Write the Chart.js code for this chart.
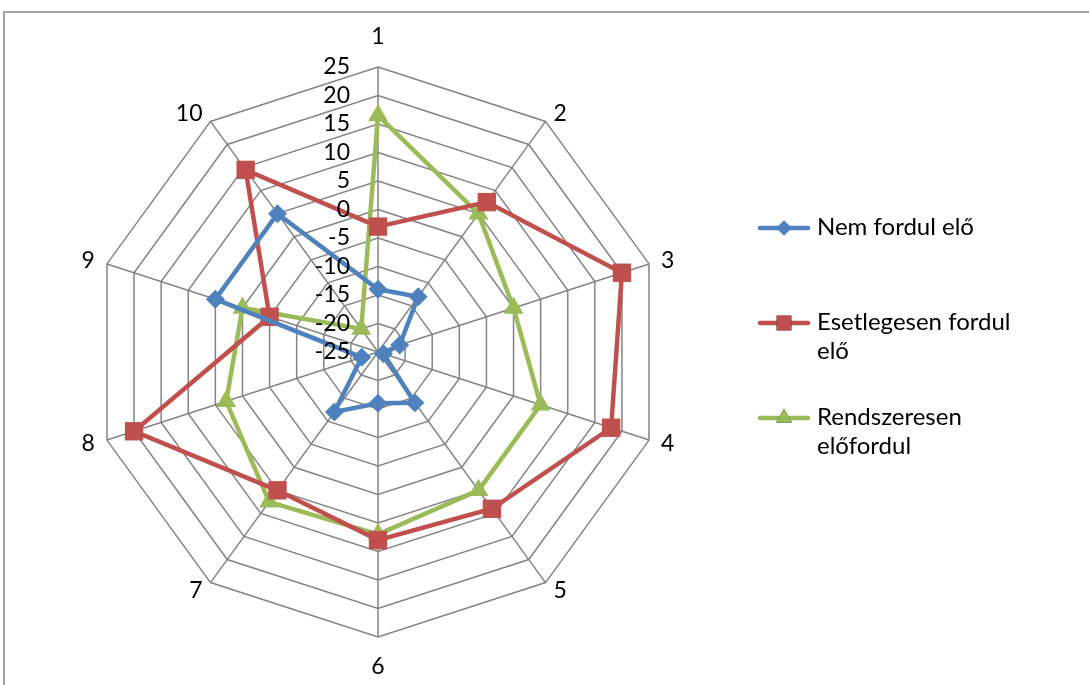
<!DOCTYPE html>
<html>
<head>
<meta charset="utf-8">
<script src="https://cdn.jsdelivr.net/npm/chart.js@4.4.0/dist/chart.umd.min.js"></script>
<style>
  html, body { margin: 0; padding: 0; background: #fff; }
  #wrap { position: relative; width: 1089px; height: 685px; overflow: hidden; }
  #frame { position: absolute; left: 3px; top: 11px; width: 1200px; height: 800px; border: 2px solid #a3a3a3; box-sizing: border-box; }
  canvas { position: absolute; left: 0; top: 0; }
</style>
</head>
<body>
<div id="wrap">
  <div id="frame"></div>
  <canvas id="radarChart" width="1089" height="685"></canvas>
</div>
<script>
const categories = ["1", "2", "3", "4", "5", "6", "7", "8", "9", "10"];
const nemFordulElo = [-14, -13, -21, -24, -14, -16, -12, -22, 5, 5];
const esetlegesen = [-3, 7.5, 20, 18, 9, 8, 5, 20, -5, 14.5];
const rendszeresen = [16.5, 5, 0, 5, 5, 7, 7.5, 3, 0, -20];
const seriesNames = [["Nem fordul elő"], ["Esetlegesen fordul", "elő"], ["Rendszeresen", "előfordul"]];

const FONT = "Lato, 'Noto Sans', sans-serif";
const GRID = "#848484";

// tick labels left of the vertical axis + category labels round the outside
const labelsPlugin = {
    id: "excelLabels",
    afterDraw(chart) {
        const scale = chart.scales.r;
        const ctx = chart.ctx;
        ctx.save();
        ctx.fillStyle = "#000";
        ctx.font = "23px " + FONT;
        ctx.textBaseline = "middle";

        ctx.textAlign = "right";
        scale.ticks.forEach(t => {
            const d = scale.getDistanceFromCenterForValue(t.value);
            ctx.fillText(String(t.value), scale.xCenter - 28, scale.yCenter - d);
        });

        categories.forEach((label, i) => {
            const p = scale.getPointPosition(i, scale.drawingArea);
            const dx = Math.cos(p.angle), dy = Math.sin(p.angle);
            let x = p.x, y = p.y;
            if (Math.abs(dx) < 0.1) {
                ctx.textAlign = "center";
                y += dy * 30;
            } else {
                ctx.textAlign = dx > 0 ? "left" : "right";
                x += Math.sign(dx) * (Math.abs(dx) > 0.9 ? 12 : 8);
                y += dy * 10;
            }
            ctx.fillText(label, x, y);
        });
        ctx.restore();
    }
};

// legend on the right with line + marker, wrapped text
const legendPlugin = {
    id: "excelLegend",
    afterDraw(chart) {
        const ctx = chart.ctx;
        const ys = [228, 323, 418];
        ctx.save();
        chart.data.datasets.forEach((ds, i) => {
            const y = ys[i];
            ctx.strokeStyle = ds.borderColor;
            ctx.lineWidth = 4.5;
            ctx.lineCap = "round";
            ctx.beginPath();
            ctx.moveTo(760, y);
            ctx.lineTo(808, y);
            ctx.stroke();
            Chart.helpers.drawPoint(ctx, {
                pointStyle: ds.pointStyle,
                radius: ds.pointRadius * 0.8,
                rotation: 0,
                borderWidth: 0
            }, 784, y);
            ctx.fillStyle = ds.backgroundColor;
            ctx.fill();
            ctx.fillStyle = "#000";
            ctx.font = "24px " + FONT;
            ctx.textAlign = "left";
            ctx.textBaseline = "middle";
            seriesNames[i].forEach((line, k) => ctx.fillText(line, 817, y - 1 + k * 29));
        });
        ctx.restore();
    }
};

new Chart(document.getElementById("radarChart"), {
    type: "radar",
    data: {
        labels: categories,
        datasets: [
            {
                label: seriesNames[0].join(" "),
                data: nemFordulElo,
                borderColor: "#4F81BD",
                backgroundColor: "#4F81BD",
                pointStyle: "rectRot",
                pointRadius: 9.5
            },
            {
                label: seriesNames[1].join(" "),
                data: esetlegesen,
                borderColor: "#C0504D",
                backgroundColor: "#C0504D",
                pointStyle: "rect",
                pointRadius: 13
            },
            {
                label: seriesNames[2].join(" "),
                data: rendszeresen,
                borderColor: "#9BBB59",
                backgroundColor: "#9BBB59",
                pointStyle: "triangle",
                pointRadius: 11.5
            }
        ].map(d => Object.assign(d, {
            fill: false,
            borderWidth: 4.5,
            tension: 0,
            pointBorderWidth: 0,
            pointBackgroundColor: d.backgroundColor,
            pointHoverRadius: d.pointRadius
        }))
    },
    options: {
        responsive: false,
        animation: false,
        devicePixelRatio: 1,
        layout: { padding: { left: 93, right: 426, top: 67, bottom: 48 } },
        plugins: {
            legend: { display: false },
            tooltip: { enabled: false }
        },
        scales: {
            r: {
                min: -25,
                max: 25,
                beginAtZero: false,
                ticks: { stepSize: 5, display: false },
                pointLabels: { display: false },
                grid: { color: GRID, lineWidth: 1.5 },
                angleLines: { color: GRID, lineWidth: 1.5 }
            }
        }
    },
    plugins: [labelsPlugin, legendPlugin]
});
</script>
</body>
</html>
